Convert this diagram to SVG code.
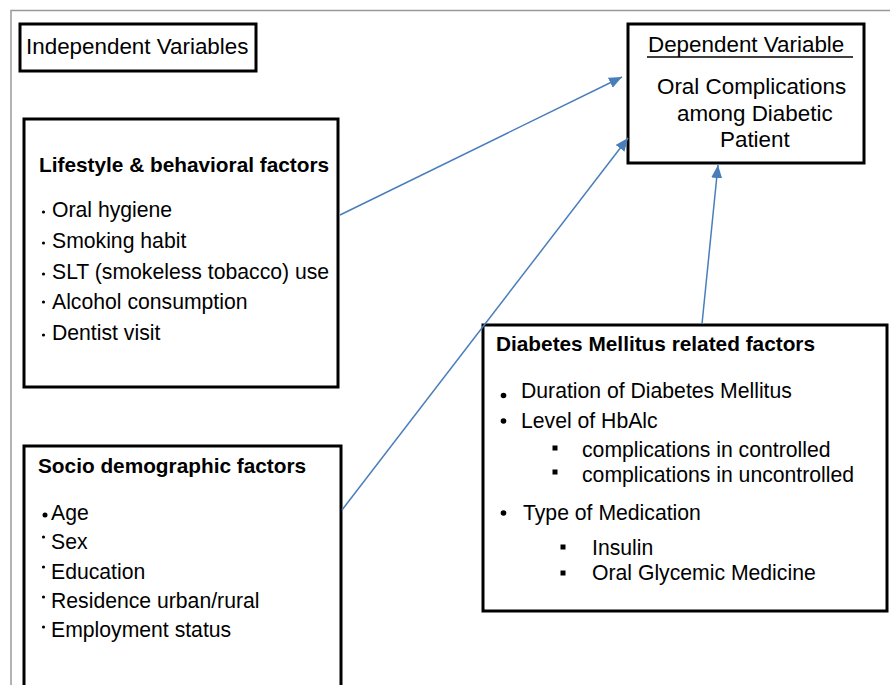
<svg xmlns="http://www.w3.org/2000/svg" width="890" height="685" viewBox="0 0 890 685">
<defs>
<style>
.box{fill:#fff;stroke:#000;stroke-width:3}
.t{font-family:"Liberation Sans",Arial,sans-serif;fill:#000}
.hd{font-size:22.4px}
.ti{font-size:20.8px;font-weight:bold}
.it{font-size:21.2px}
.conn{stroke:#4a7ebb;stroke-width:1.5;fill:none;marker-end:url(#ah)}
.frame{stroke:#999;stroke-width:1.5;fill:none}
</style>
<marker id="ah" markerUnits="userSpaceOnUse" markerWidth="14" markerHeight="12" refX="13" refY="5.5" orient="auto">
<path d="M0,0 L13,5.5 L0,11 z" fill="#4a7ebb"/>
</marker>
</defs>
<rect width="890" height="685" fill="#fff"/>
<path class="frame" d="M11,685 V10.5 H890"/>

<g id="independent">
<rect class="box" x="20" y="24" width="236" height="47"/>
<text class="t hd" x="26" y="54">Independent Variables</text>
</g>

<g id="lifestyle">
<rect class="box" x="24" y="119" width="314" height="268"/>
<text class="t ti" x="39" y="172">Lifestyle &amp; behavioral factors</text>
<g fill="#000">
<circle cx="43.5" cy="212" r="1.6"/>
<circle cx="43.5" cy="243" r="1.6"/>
<circle cx="43.5" cy="274" r="1.6"/>
<circle cx="43.5" cy="302" r="1.6"/>
<circle cx="43.5" cy="335" r="1.6"/>
</g>
<text class="t it" x="52" y="217">Oral hygiene</text>
<text class="t it" x="52" y="248">Smoking habit</text>
<text class="t it" x="52" y="279">SLT (smokeless tobacco) use</text>
<text class="t it" x="52" y="309">Alcohol consumption</text>
<text class="t it" x="52" y="340">Dentist visit</text>
</g>

<g id="socio">
<rect class="box" x="24" y="446" width="317" height="260"/>
<text class="t ti" x="38" y="473">Socio demographic factors</text>
<g fill="#000">
<circle cx="45" cy="515" r="2.5"/>
<circle cx="43.5" cy="537" r="1.6"/>
<circle cx="43.5" cy="567" r="1.6"/>
<circle cx="43.5" cy="597" r="1.6"/>
<circle cx="43.5" cy="627" r="1.6"/>
</g>
<text class="t it" x="51" y="520">Age</text>
<text class="t it" x="51" y="549">Sex</text>
<text class="t it" x="51" y="579">Education</text>
<text class="t it" x="51" y="608">Residence urban/rural</text>
<text class="t it" x="51" y="637">Employment status</text>
</g>

<g id="dependent">
<rect class="box" x="628" y="24" width="236" height="139"/>
<text class="t hd" x="648" y="52">Dependent Variable</text>
<line x1="647" y1="57" x2="853" y2="57" stroke="#000" stroke-width="1.5"/>
<text class="t hd" x="657" y="94">Oral Complications</text>
<text class="t hd" x="677" y="121">among Diabetic</text>
<text class="t hd" x="720" y="147">Patient</text>
</g>

<g id="diabetes">
<rect class="box" x="483" y="325" width="404" height="286"/>
<text class="t ti" x="496" y="351">Diabetes Mellitus related factors</text>
<g fill="#000">
<circle cx="503.5" cy="395.5" r="2.8"/>
<circle cx="503.5" cy="421" r="2.8"/>
<circle cx="503.5" cy="513" r="2.8"/>
<rect x="552.5" y="445.5" width="5" height="5"/>
<rect x="552.5" y="469.5" width="5" height="5"/>
<rect x="560.5" y="544.5" width="5" height="5"/>
<rect x="560.5" y="570.5" width="5" height="5"/>
</g>
<text class="t it" x="521" y="398">Duration of Diabetes Mellitus</text>
<text class="t it" x="521" y="428">Level of HbAlc</text>
<text class="t it" x="582" y="457">complications in controlled</text>
<text class="t it" x="582" y="482">complications in uncontrolled</text>
<text class="t it" x="523" y="520">Type of Medication</text>
<text class="t it" x="592" y="555">Insulin</text>
<text class="t it" x="592" y="580">Oral Glycemic Medicine</text>
</g>

<g id="connectors">
<line class="conn" x1="340" y1="215" x2="622" y2="77"/>
<line class="conn" x1="342" y1="510" x2="628" y2="138"/>
<line class="conn" x1="702" y1="324" x2="718" y2="165"/>
</g>
</svg>
